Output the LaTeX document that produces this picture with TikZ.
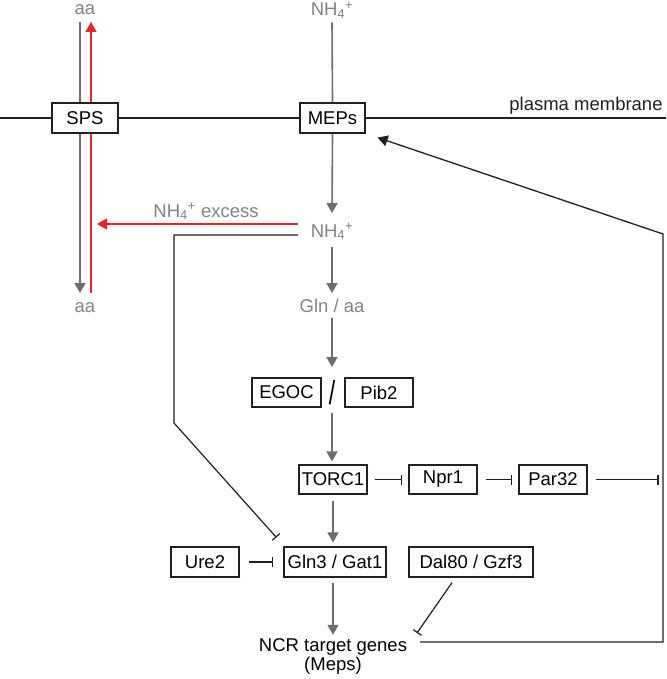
\documentclass[tikz,border=0pt]{standalone}
\usepackage{fontspec}
\setmainfont{Liberation Sans}
\usetikzlibrary{arrows.meta,calc}
\definecolor{pathgray}{HTML}{6D6E71}
\definecolor{txtgray}{HTML}{808285}
\definecolor{actred}{HTML}{E3262B}
\definecolor{inkblack}{HTML}{231F20}
\begin{document}
\begin{tikzpicture}[x=1pt,y=-1pt,
  every node/.style={font=\fontsize{18.5}{16.5}\selectfont, inner sep=0pt},
  box/.style={draw=inkblack, line width=1.2pt, fill=white, minimum height=29pt, minimum width=68pt, text=black},
  gtxt/.style={text=txtgray, anchor=base},
  garrow/.style={draw=pathgray, line width=1.6pt, -{Triangle[width=11pt,length=10pt]}},
  gline/.style={draw=pathgray, line width=1.6pt},
  rarrow/.style={draw=actred, line width=1.4pt, -{Triangle[width=11pt,length=10pt]}},
  karrow/.style={draw=inkblack, line width=1.3pt, -{Triangle[width=11pt,length=10pt]}},
  inhib/.style={draw=inkblack, line width=1.2pt, -{Bar[width=10pt,line width=1.2pt]}},
]
\useasboundingbox (0,0) rectangle (666,679);

% text labels
\node[gtxt] (aaTop) at (85,15) {aa};
\node[gtxt] (aaBot) at (85,312) {aa};
\node[gtxt] (nhTop) at (332,15.5) {NH\textsubscript{4}\textsuperscript{+}};
\node[gtxt] (nhMid) at (332,237) {NH\textsubscript{4}\textsuperscript{+}};
\node[gtxt] (excess) at (206,217) {NH\textsubscript{4}\textsuperscript{+} excess};
\node[gtxt] (glnaa) at (332,312) {Gln / aa};
\node[anchor=base, text=inkblack] (pm) at (586,111) {plasma membrane};
\node[align=center, text=black] (NCR) at (333,656.5) {NCR target genes\\(Meps)};

% membrane and transport lines (under the boxes)
\coordinate (memL) at (0,118);
\coordinate (memR) at (666,118);
\draw[inkblack, line width=1.3pt] (memL) -- (memR);
\draw[garrow] ($(aaTop.base)+(-5,7)$) -- ($(aaBot.base)+(-5,-19)$);
\draw[rarrow] ($(aaBot.base)+(6,-19)$) -- ($(aaTop.base)+(6,7)$);

% boxes
\node[box, minimum width=66pt, minimum height=30pt] (SPS) at (85,118) {SPS};
\node[box, minimum width=65pt, minimum height=30pt] (MEPs) at (332.5,118) {MEPs};
\node[box, minimum width=69pt] (EGOC) at (286.5,392.5) {EGOC};
\node[text=black] (slash) at (332,393) {\scalebox{1.25}[1.8]{/}};
\node[box] (Pib2) at (379,392.5) {Pib2};
\node[box] (TORC1) at (333,479.5) {TORC1};
\node[box] (Npr1) at (443,479.5) {Npr1};
\node[box] (Par32) at (553,479.5) {Par32};
\node[box, minimum height=30pt] (Ure2) at (205,562) {Ure2};
\node[box, minimum width=102pt, minimum height=30pt] (Gln3) at (335,562) {Gln3 / Gat1};
\node[box, minimum width=124pt, minimum height=30pt] (Dal80) at (471,562) {Dal80 / Gzf3};

% main gray pathway
\draw[gline] ($(nhTop.base)+(0,7)$) -- (MEPs.north);
\draw[garrow] (MEPs.south) -- ($(nhMid.base)+(0,-24)$);
\draw[garrow] ($(nhMid.base)+(0,10)$) -- ($(glnaa.base)+(0,-19)$);
\draw[garrow] ($(glnaa.base)+(0,6)$) -- ($(slash.center)+(0,-26)$);
\draw[garrow] ($(slash.center)+(0,20)$) -- ($(TORC1.north -| slash.center)+(0,-3)$);
\draw[garrow] ($(TORC1.south)+(0,6)$) -- ($(Gln3.north -| TORC1.south)+(0,-4)$);
\draw[garrow] ($(Gln3.south -| TORC1.south)+(0,5)$) -- ($(NCR.north -| TORC1.south)+(0,-4)$);

% NH4+ excess (red)
\coordinate (exStart) at ($(nhMid.base)+(-34,-13)$);
\coordinate (exX) at ($(aaTop.base)+(12,0)$);
\draw[rarrow] (exStart) -- (exStart -| exX);

% black inhibitions
\coordinate (inStart) at ($(nhMid.base)+(-34,-2)$);
\coordinate (bend) at (174,423);
\draw[inhib] (inStart) -| (bend) -- ($(Gln3.north west)+(-7,-9)$);
\draw[inhib] ($(Ure2.east)+(9,0)$) -- ($(Gln3.west)+(-10,0)$);
\draw[inhib] ($(TORC1.east)+(7,0)$) -- ($(Npr1.west)+(-6,0)$);
\draw[inhib] ($(Npr1.east)+(8,0)$) -- ($(Par32.west)+(-6,0)$);
\draw[inhib] ($(Par32.east)+(8,0)$) -- ($(Par32.east)+(71,0)$);
\coordinate (ncrT) at (417,633);
\draw[inhib] ($(Dal80.south)+(-19,5)$) -- (ncrT);

% feedback to MEPs
\coordinate (fbStart) at (420,642);
\coordinate (fbCorner) at (663,234);
\draw[karrow] (fbStart) -| (fbCorner) -- ($(MEPs.south east)+(12,4)$);
\end{tikzpicture}
\end{document}
